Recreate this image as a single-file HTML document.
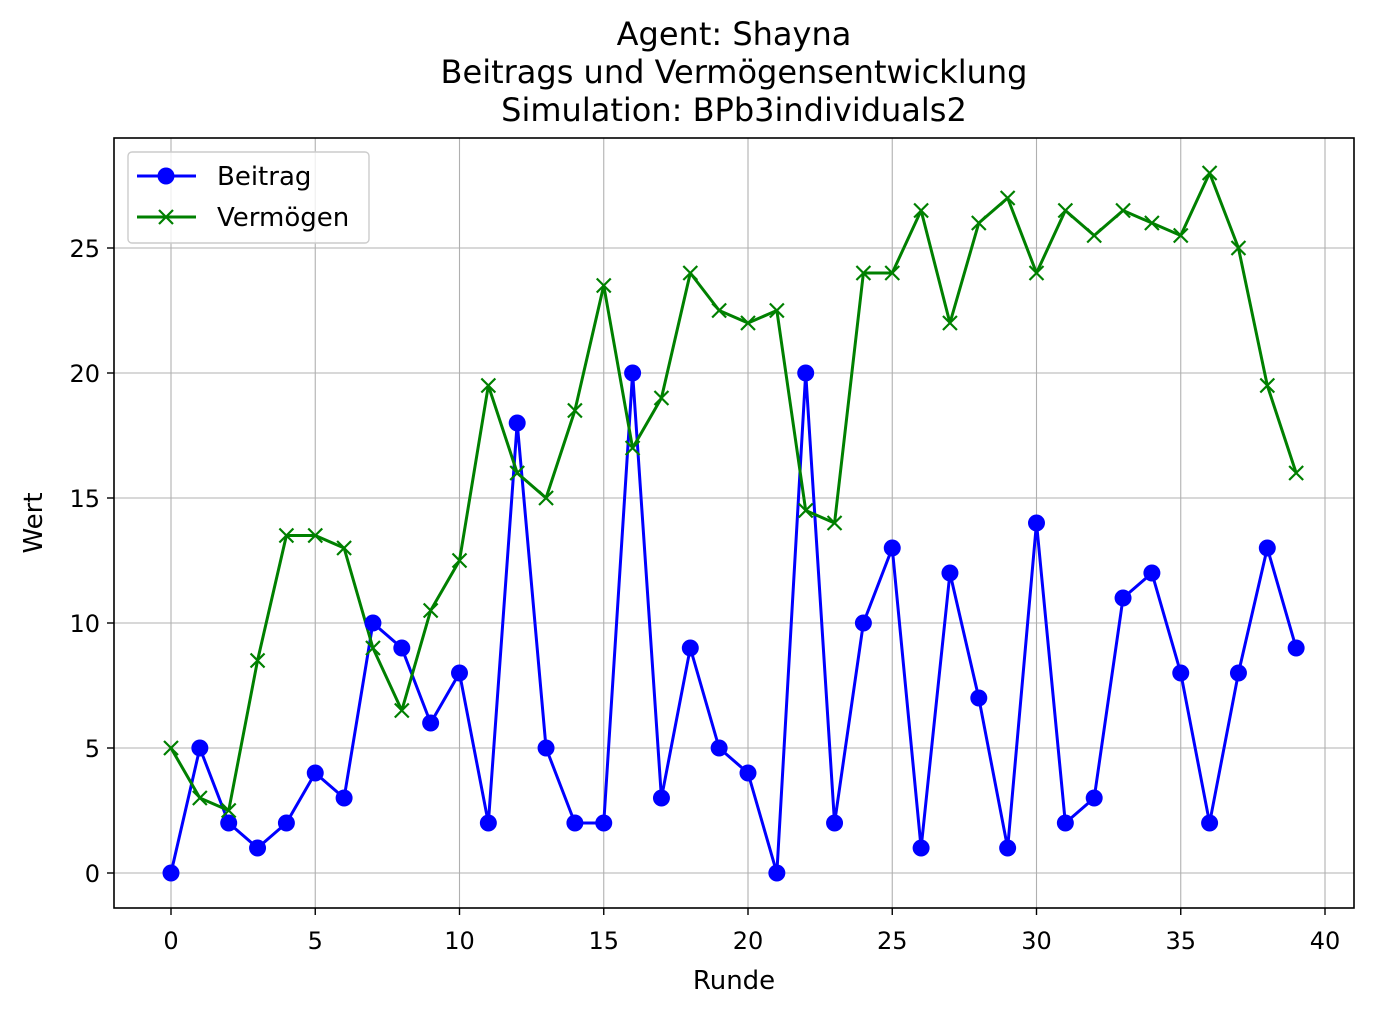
<!DOCTYPE html>
<html><head><meta charset="utf-8"><style>
body{margin:0;background:#fff}
svg text{font-family:"DejaVu Sans","Liberation Sans",sans-serif;fill:#000}
</style></head><body>
<svg id="chart" width="1373" height="1015" xmlns="http://www.w3.org/2000/svg">
<rect width="1373" height="1015" fill="#fff"/>
<g id="grid"></g>
<g id="series"></g>
<rect x="114" y="138" width="1240" height="770" fill="none" stroke="#000" stroke-width="1.6"/>
<g id="ticks"></g>
<text x="734" y="45" font-size="32" text-anchor="middle">Agent: Shayna</text>
<text x="734" y="83" font-size="32" text-anchor="middle">Beitrags und Vermögensentwicklung</text>
<text x="734" y="121" font-size="32" text-anchor="middle">Simulation: BPb3individuals2</text>
<text x="734" y="989" font-size="26" text-anchor="middle">Runde</text>
<text x="42" y="523" font-size="26" text-anchor="middle" transform="rotate(-90 42 523)">Wert</text>
<g>
<rect x="128" y="152" width="241" height="91" rx="4" fill="#fff" fill-opacity="0.8" stroke="#ccc" stroke-width="1.4"/>
<line x1="137" y1="176" x2="196" y2="176" stroke="#0000ff" stroke-width="3"/>
<circle cx="166" cy="176" r="8.5" fill="#0000ff"/>
<text x="217" y="185" font-size="26">Beitrag</text>
<line x1="137" y1="217" x2="196" y2="217" stroke="#008000" stroke-width="3"/>
<path d="M159 210 L173 224 M173 210 L159 224" stroke="#008000" stroke-width="2.2"/>
<text x="217" y="226" font-size="26">Vermögen</text>
</g>
</svg>
<script>
const rounds=[0,1,2,3,4,5,6,7,8,9,10,11,12,13,14,15,16,17,18,19,20,21,22,23,24,25,26,27,28,29,30,31,32,33,34,35,36,37,38,39];
const beitrag=[0,5,2,1,2,4,3,10,9,6,8,2,18,5,2,2,20,3,9,5,4,0,20,2,10,13,1,12,7,1,14,2,3,11,12,8,2,8,13,9];
const vermoegen=[5,3,2.5,8.5,13.5,13.5,13,9,6.5,10.5,12.5,19.5,16,15,18.5,23.5,17,19,24,22.5,22,22.5,14.5,14,24,24,26.5,22,26,27,24,26.5,25.5,26.5,26,25.5,28,25,19.5,16];
const xTicks=[0,5,10,15,20,25,30,35,40];
const yTicks=[0,5,10,15,20,25];
const NS="http://www.w3.org/2000/svg";
const X=v=>171+v*(1325-171)/40;
const Y=v=>873-v*25;
function mk(t,a,p){const e=document.createElementNS(NS,t);for(const k in a)e.setAttribute(k,a[k]);p.appendChild(e);return e;}
const grid=document.getElementById('grid'),ticks=document.getElementById('ticks'),ser=document.getElementById('series');
xTicks.forEach(t=>{
 const g=mk('line',{x1:X(t),x2:X(t),y1:138,y2:908,stroke:'#b0b0b0','stroke-width':1.1},grid);
 
 
 mk('line',{x1:X(t),x2:X(t),y1:908,y2:915,stroke:'#000','stroke-width':1.4},ticks);
 const tx=mk('text',{x:X(t),y:949,'font-size':24,'text-anchor':'middle'},ticks);tx.textContent=t;
 
 
});
yTicks.forEach(t=>{
 const g=mk('line',{x1:114,x2:1354,y1:Y(t),y2:Y(t),stroke:'#b0b0b0','stroke-width':1.1},grid);
 
 
 mk('line',{x1:107,x2:114,y1:Y(t),y2:Y(t),stroke:'#000','stroke-width':1.4},ticks);
 const tx=mk('text',{x:100,y:Y(t)+9,'font-size':24,'text-anchor':'end'},ticks);tx.textContent=t;
 
 
});
const lb=mk('polyline',{points:rounds.map((r,i)=>X(r)+','+Y(beitrag[i])).join(' '),fill:'none',stroke:'#0000ff','stroke-width':3,'stroke-linejoin':'round'},ser);


const lv=mk('polyline',{points:rounds.map((r,i)=>X(r)+','+Y(vermoegen[i])).join(' '),fill:'none',stroke:'#008000','stroke-width':3,'stroke-linejoin':'round'},ser);


rounds.forEach((r,i)=>{
 const c=mk('circle',{cx:X(r),cy:Y(beitrag[i]),r:8.5,fill:'#0000ff'},ser);
 
 
 const x=X(r),y=Y(vermoegen[i]);
 const p=mk('path',{d:`M${x-7} ${y-7}L${x+7} ${y+7}M${x+7} ${y-7}L${x-7} ${y+7}`,stroke:'#008000','stroke-width':2.2},ser);
 
 
});
</script>
</body></html>
